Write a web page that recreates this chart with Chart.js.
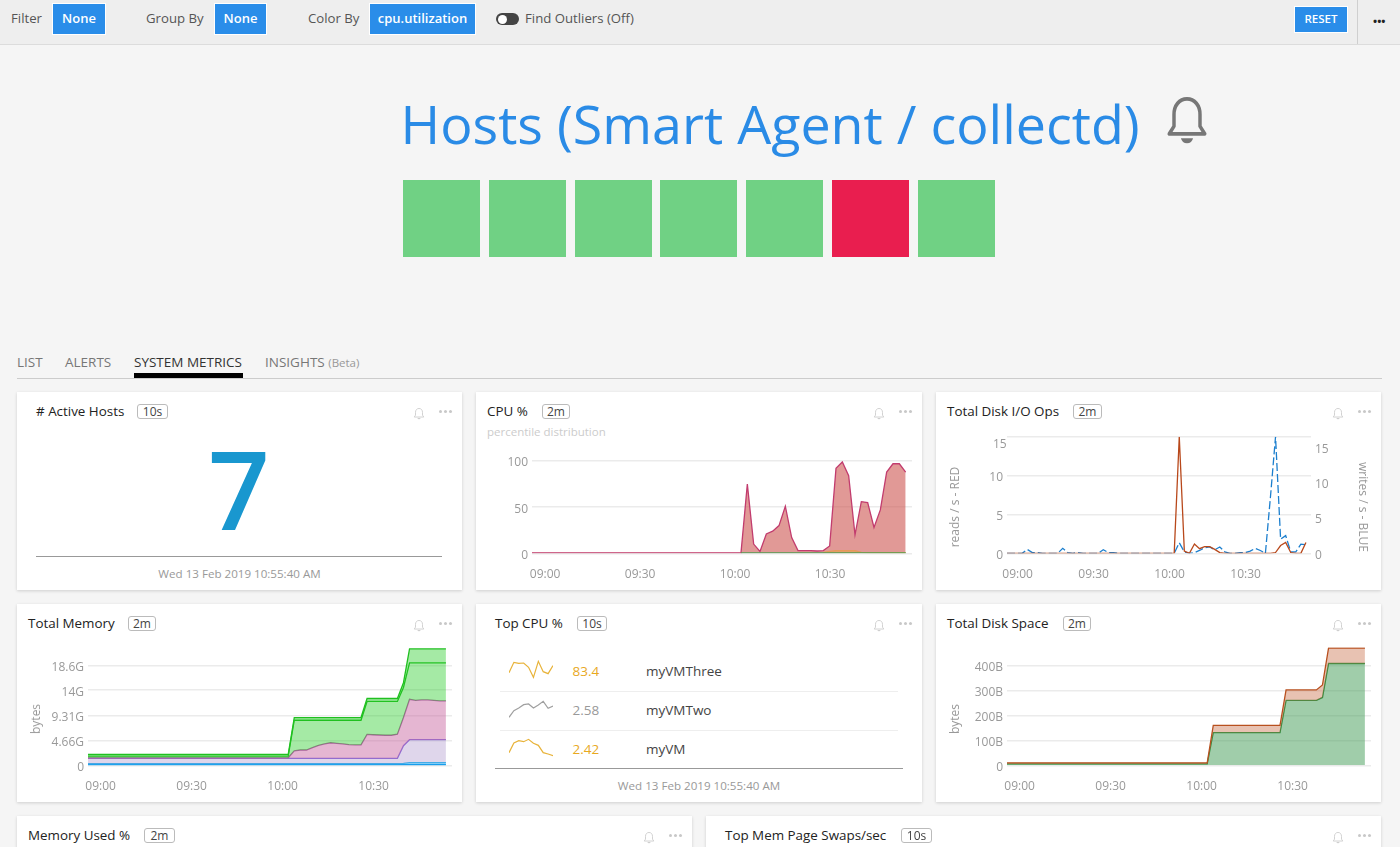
<!DOCTYPE html>
<html>
<head>
<meta charset="utf-8">
<title>Hosts (Smart Agent / collectd)</title>
<script src="https://cdn.jsdelivr.net/npm/chart.js@4/dist/chart.umd.min.js"></script>
<style>
  html, body { margin: 0; padding: 0; width: 1400px; height: 847px; overflow: hidden; background: #f5f5f5; }
  body { position: relative; font-family: "Open Sans", sans-serif; color: #333; }
  .t { position: absolute; white-space: nowrap; line-height: 1; transform: translateY(-50%); }
  .box { position: absolute; }
  .btn { position: absolute; background: #2a8de9; color: #fff; font-weight: 600; font-size: 13px; text-align: center; border: 1px solid #fff; box-sizing: border-box; }
  .card { position: absolute; background: #fff; box-shadow: 0 1px 3px rgba(0,0,0,0.16); }
  .card canvas { position: absolute; left: 0; top: 0; }
  .badge { position: absolute; border: 1px solid #bbb; border-radius: 3px; font-size: 12px; color: #444; text-align: center; box-sizing: border-box; height: 15px; line-height: 13px; }
  .vert { position: absolute; white-space: nowrap; font-size: 12px; color: #999; line-height: 1; transform: translate(-50%, -50%) rotate(-90deg); }
  .vert.down { transform: translate(-50%, -50%) rotate(90deg); }
  .dots { position: absolute; width: 3px; height: 3px; border-radius: 50%; background: #c8c8c8; box-shadow: 5px 0 0 #c8c8c8, 10px 0 0 #c8c8c8; }
</style>
</head>
<body>
<script>
const xLabels = ["08:56","08:58","09:00","09:02","09:04","09:06","09:08","09:10","09:12","09:14","09:16","09:18","09:20","09:22","09:24","09:26","09:28","09:30","09:32","09:34","09:36","09:38","09:40","09:42","09:44","09:46","09:48","09:50","09:52","09:54","09:56","09:58","10:00","10:02","10:04","10:06","10:08","10:10","10:12","10:14","10:16","10:18","10:20","10:22","10:24","10:26","10:28","10:30","10:32","10:34","10:36","10:38","10:40","10:42","10:44","10:46","10:48","10:50","10:52","10:54","10:56"];
const xTickLabels = ["09:00","09:30","10:00","10:30"];

const cpuTicks = [0,50,100];
const cpuMax = [0.5,0.5,0.5,0.5,0.5,0.5,0.5,0.5,0.5,0.5,0.5,0.5,0.5,0.5,0.5,0.5,0.5,0.5,0.5,0.5,0.5,0.5,0.5,0.5,0.5,0.5,0.5,0.5,0.5,0.5,0.5,0.5,0.5,0.5,75,10,2,21,24,30,51,17,3,3,3,2.5,3,8,92,99,84,20,56,55,28,47,88,97,97,88];
const cpuP90 = [null,null,null,null,null,null,null,null,null,null,null,null,null,null,null,null,null,null,null,null,null,null,null,null,null,null,null,null,null,null,null,null,null,null,null,null,null,null,null,null,null,null,null,null,null,null,1,2,3,3,3,3,1,0.8,0.7,0.7,0.7,0.7,0.7,0.7];
const cpuP50 = [null,null,null,null,null,null,null,null,null,null,null,null,null,null,null,null,null,null,null,null,null,null,null,null,null,null,null,null,null,null,null,null,null,0.5,0.5,0.5,0.5,0.5,0.5,0.5,0.5,0.5,0.5,0.5,0.5,0.5,0.5,0.5,0.5,0.5,0.5,0.5,0.5,0.5,0.5,0.5,0.5,0.5,0.5,0.5];

const ioLeftTicks = [0,5,10,15];
const ioRightTicks = [0,5,10,15];
const diskReads = [0,0,0,0,0,0,0,0,0,0,0,0,0,0,0,0,0,0,0,0,0,0,0,0,0,0,0,0,0,0,0,0,0,0,15,0.3,0,1.2,0.6,0.85,0.85,0.5,0.1,0,0,0,0,0,0,0,0,0,0,0.1,1,1.4,0.1,0,0,1.4];
const diskWrites = [0,0,0,0,0.55,0.1,0.1,0,0,0,0,0.7,0.1,0,0.1,0,0,0,0,0.5,0.1,0.1,0,0,0,0,0,0,0,0,0,0,0,0,1.5,0.2,0,0.1,0.4,0.8,0.9,0.5,0.9,0.2,0,0,0.1,0.1,0.3,0.7,0.4,0,8,16.5,2,2.5,0.2,0.2,1.3,1.2];

const memTicks = [0,4.66,9.31,14,18.6];
const memTotalA = [2.05,2.05,2.05,2.05,2.05,2.05,2.05,2.05,2.05,2.05,2.05,2.05,2.05,2.05,2.05,2.05,2.05,2.05,2.05,2.05,2.05,2.05,2.05,2.05,2.05,2.05,2.05,2.05,2.05,2.05,2.05,2.05,2.05,2.05,8.9,8.9,8.9,8.9,8.9,8.9,8.9,8.9,8.9,8.9,8.9,8.9,12.45,12.45,12.45,12.45,12.45,12.45,15.4,21.7,21.7,21.7,21.7,21.7,21.7,21.7];
const memTotalB = [1.7,1.7,1.7,1.7,1.7,1.7,1.7,1.7,1.7,1.7,1.7,1.7,1.7,1.7,1.7,1.7,1.7,1.7,1.7,1.7,1.7,1.7,1.7,1.7,1.7,1.7,1.7,1.7,1.7,1.7,1.7,1.7,1.7,1.7,8.4,8.4,8.4,8.4,8.4,8.4,8.4,8.4,8.4,8.4,8.4,8.4,11.9,11.9,11.9,11.9,11.9,11.9,14.5,19.1,19.1,19.1,19.1,19.1,19.1,19.1];
const memCached = [1.4,1.4,1.4,1.4,1.4,1.4,1.4,1.4,1.4,1.4,1.4,1.4,1.4,1.4,1.4,1.4,1.4,1.4,1.4,1.4,1.4,1.4,1.4,1.4,1.4,1.4,1.4,1.4,1.4,1.4,1.4,1.4,1.4,1.4,2.7,2.85,2.85,3.3,3.7,4,4.2,4.1,4,3.85,3.8,3.8,5.75,5.7,5.65,5.6,5.6,5.8,8.9,12.3,12.1,12.2,12.2,12.1,12,12];
const memUsed = [1.3,1.3,1.3,1.3,1.3,1.3,1.3,1.3,1.3,1.3,1.3,1.3,1.3,1.3,1.3,1.3,1.3,1.3,1.3,1.3,1.3,1.3,1.3,1.3,1.3,1.3,1.3,1.3,1.3,1.3,1.3,1.3,1.3,1.3,1.3,1.3,1.3,1.3,1.3,1.3,1.3,1.3,1.3,1.3,1.3,1.3,1.3,1.3,1.3,1.3,1.3,1.3,3.65,4.77,4.77,4.77,4.77,4.77,4.77,4.77];
const memBuffered = [0.3,0.3,0.3,0.3,0.3,0.3,0.3,0.3,0.3,0.3,0.3,0.3,0.3,0.3,0.3,0.3,0.3,0.3,0.3,0.3,0.3,0.3,0.3,0.3,0.3,0.3,0.3,0.3,0.3,0.3,0.3,0.3,0.3,0.3,0.3,0.3,0.3,0.3,0.3,0.3,0.3,0.3,0.3,0.3,0.3,0.3,0.3,0.3,0.3,0.3,0.3,0.3,0.35,0.5,0.5,0.5,0.5,0.5,0.5,0.5];
const memSlab = [0.1,0.1,0.1,0.1,0.1,0.1,0.1,0.1,0.1,0.1,0.1,0.1,0.1,0.1,0.1,0.1,0.1,0.1,0.1,0.1,0.1,0.1,0.1,0.1,0.1,0.1,0.1,0.1,0.1,0.1,0.1,0.1,0.1,0.1,0.1,0.1,0.1,0.1,0.1,0.1,0.1,0.1,0.1,0.1,0.1,0.1,0.1,0.1,0.1,0.1,0.1,0.1,0.1,0.1,0.1,0.1,0.1,0.1,0.1,0.1];

const spaceTicks = [0,100,200,300,400];
const spaceTotal = [10,10,10,10,10,10,10,10,10,10,10,10,10,10,10,10,10,10,10,10,10,10,10,10,10,10,10,10,10,10,10,10,10,10,160,160,160,160,160,160,160,160,160,160,160,160,302,302,302,302,302,302,322,470,470,470,470,470,470,470];
const spaceUsed = [6,6,6,6,6,6,6,6,6,6,6,6,6,6,6,6,6,6,6,6,6,6,6,6,6,6,6,6,6,6,6,6,6,6,131,131,131,131,131,131,131,131,131,131,131,131,260,260,260,260,260,260,272,408,408,408,408,408,408,408];

const topHosts = ["myVMThree","myVMTwo","myVM"];
const topValues = ["83.4","2.58","2.42"];
const sparkThree = [69.5,85,83.5,84,77.5,62.5,86.5,71,68,80];
const sparkTwo = [2.05,2.25,2.33,2.43,2.45,2.33,2.42,2.53,2.32,2.39];
const sparkOne = [2.13,2.42,2.49,2.46,2.53,2.41,2.35,2.13,2.09,2.04];

const hostStates = ["ok","ok","ok","ok","ok","bad","ok"];

const FONT = '"Open Sans", sans-serif';
const BELL = '<path d="M12 2.5c-3.6 0-6 2.8-6 6.5v5l-2.2 3.2h16.4L18 14V9c0-3.7-2.4-6.5-6-6.5z" fill="none" stroke="currentColor" stroke-width="1.6" stroke-linejoin="round"/><path d="M9.2 19a2.9 2.9 0 0 0 5.6 0z" fill="currentColor"/>';

function addText(parent, x, y, str, size, color, weight) {
  const el = document.createElement("div");
  el.className = "t";
  el.style.left = x + "px";
  el.style.top = y + "px";
  el.style.fontSize = size + "px";
  el.style.color = color;
  if (weight) el.style.fontWeight = weight;
  el.textContent = str;
  parent.appendChild(el);
  return el;
}

function addBox(parent, x, y, w, h, bg) {
  const el = document.createElement("div");
  el.className = "box";
  el.style.cssText = `left:${x}px;top:${y}px;width:${w}px;height:${h}px;background:${bg}`;
  parent.appendChild(el);
  return el;
}

function addBell(parent, x, y, w, h, color) {
  const el = document.createElement("div");
  el.style.cssText = `position:absolute;left:${x}px;top:${y}px;width:${w}px;height:${h}px;color:${color}`;
  el.innerHTML = `<svg width="${w}" height="${h}" viewBox="0 0 24 24" preserveAspectRatio="none">${BELL}</svg>`;
  parent.appendChild(el);
}

function addButton(x, y, w, h, str, size) {
  const el = document.createElement("div");
  el.className = "btn";
  el.style.cssText = `left:${x}px;top:${y}px;width:${w}px;height:${h}px;line-height:${h - 3}px;font-size:${size}px`;
  el.textContent = str;
  document.body.appendChild(el);
}

// card with title, interval badge, bell and the "..." menu
function addCard(x, y, w, h, title, titleX, badge, badgeX, badgeW) {
  const card = document.createElement("div");
  card.className = "card";
  card.style.cssText = `left:${x}px;top:${y}px;width:${w}px;height:${h}px`;
  document.body.appendChild(card);
  addText(card, titleX - x, 19.5, title, 13.4, "#222");
  const b = document.createElement("div");
  b.className = "badge";
  b.style.cssText = `left:${badgeX - x}px;top:12px;width:${badgeW}px`;
  b.textContent = badge;
  card.appendChild(b);
  addBell(card, w - 50, 12, 14, 14, "#cfcfcf");
  const d = document.createElement("div");
  d.className = "dots";
  d.style.cssText = `left:${w - 23}px;top:17.5px`;
  card.appendChild(d);
  return card;
}

function addVertical(card, x, y, str, down) {
  const el = document.createElement("div");
  el.className = down ? "vert down" : "vert";
  el.style.left = x + "px";
  el.style.top = y + "px";
  el.textContent = str;
  card.appendChild(el);
}

// builds a time chart whose plot area sits at the given offsets inside the card
function timeChart(card, area, datasets, scales) {
  const w = card.offsetWidth, h = card.offsetHeight;
  const canvas = document.createElement("canvas");
  canvas.width = w;
  canvas.height = h;
  canvas.style.width = w + "px";
  canvas.style.height = h + "px";
  card.appendChild(canvas);
  scales.x = {
    type: "category",
    offset: false,
    grid: { display: false },
    border: { display: false },
    afterFit: (s) => { s.height = h - area.bottom; },
    ticks: {
      color: "#999", autoSkip: false, maxRotation: 0, minRotation: 0, padding: 6, labelOffset: 0.5,
      font: { family: FONT, size: 12 },
      callback: function (v) {
        const l = this.getLabelForValue(v);
        return xTickLabels.includes(l) ? l : "";
      }
    }
  };
  return new Chart(canvas, {
    type: "line",
    data: { labels: xLabels, datasets: datasets },
    options: {
      responsive: false,
      animation: false,
      layout: { padding: { left: 0, top: area.top, right: scales.y2 ? 0 : w - area.right, bottom: 0 } },
      plugins: { legend: { display: false }, tooltip: { enabled: false } },
      elements: { point: { radius: 0 }, line: { tension: 0, borderWidth: 1.3 } },
      scales: scales
    }
  });
}

function valueAxis(ticks, max, width, fmt, position, showGrid) {
  return {
    type: "linear",
    position: position || "left",
    min: 0,
    max: max,
    border: { display: false },
    grid: { display: showGrid !== false, color: "#ebebeb", lineWidth: 1.5, drawTicks: false },
    afterBuildTicks: (s) => { s.ticks = ticks.map((v) => ({ value: v })); },
    afterFit: (s) => { s.width = width; },
    ticks: { color: "#999", padding: 4, labelOffset: 2, font: { family: FONT, size: 12 }, callback: fmt || ((v) => String(v)) }
  };
}

function sparkline(card, x, y, w, h, values, min, max, color) {
  const canvas = document.createElement("canvas");
  canvas.width = w;
  canvas.height = h;
  canvas.style.cssText = `left:${x}px;top:${y}px;width:${w}px;height:${h}px`;
  card.appendChild(canvas);
  new Chart(canvas, {
    type: "line",
    data: { labels: values.map((v, i) => i), datasets: [{ data: values, borderColor: color, borderWidth: 1.2, pointRadius: 0, tension: 0, clip: false }] },
    options: {
      responsive: false, animation: false,
      plugins: { legend: { display: false }, tooltip: { enabled: false } },
      scales: { x: { display: false, offset: false }, y: { display: false, min: min, max: max } }
    }
  });
}

function init() {
  const body = document.body;

  // top toolbar
  addBox(body, 0, 0, 1400, 44, "#eeeeee");
  addBox(body, 0, 44, 1400, 1, "#dcdcdc");
  addText(body, 11, 18.5, "Filter", 13.2, "#555");
  addButton(52, 3, 54, 32, "None", 13);
  addText(body, 146, 18.5, "Group By", 13.2, "#555");
  addButton(214, 3, 53, 32, "None", 13);
  addText(body, 308, 18.5, "Color By", 13.2, "#555");
  addButton(369, 3, 107, 32, "cpu.utilization", 13);
  const toggle = addBox(body, 496, 13, 23, 12, "#444");
  toggle.style.borderRadius = "6px";
  const knob = addBox(body, 498, 14.5, 9, 9, "#fff");
  knob.style.borderRadius = "50%";
  addText(body, 525, 18.5, "Find Outliers (Off)", 13.2, "#555");
  addButton(1294, 6, 54, 27, "RESET", 11.5);
  addBox(body, 1357, 0, 1, 44, "#cfcfcf");
  addText(body, 1373, 20, "•••", 11, "#222", 700);

  // heading and host squares
  addText(body, 400.5, 123.5, "Hosts (Smart Agent / collectd)", 53.8, "#2a8be6");
  addBell(body, 1160.5, 93, 52, 57, "#777");
  hostStates.forEach((s, i) => {
    addBox(body, 403 + i * 85.8, 180, 77, 77, s === "ok" ? "#70d184" : "#e91e4f");
  });

  // tabs
  addText(body, 17, 363, "LIST", 13.5, "#777");
  addText(body, 65, 363, "ALERTS", 13.5, "#777");
  addText(body, 134, 363, "SYSTEM METRICS", 13.5, "#333");
  const insights = addText(body, 265, 363, "INSIGHTS ", 13.5, "#777");
  const beta = document.createElement("span");
  beta.textContent = "(Beta)";
  beta.style.cssText = "font-size:11.5px;color:#999";
  insights.appendChild(beta);
  addBox(body, 134, 373, 109, 5, "#000");
  addBox(body, 17, 378, 1365, 1, "#cccccc");

  // # Active Hosts
  const active = addCard(17, 392, 445, 198, "# Active Hosts", 36, "10s", 137, 31);
  const seven = addText(active, 222, 97, "7", 108, "#1997cf", 600);
  seven.style.transform = "translate(-50%, -50%)";
  addBox(active, 19, 164, 406, 1, "#999");
  const stampA = addText(active, 222.5, 181.5, "Wed 13 Feb 2019 10:55:40 AM", 11.6, "#999");
  stampA.style.transform = "translate(-50%, -50%)";

  // CPU %
  const cpu = addCard(476, 392, 446, 198, "CPU %", 487, "2m", 542, 28);
  addText(cpu, 11, 39.5, "percentile distribution", 11.5, "#ccc");
  timeChart(cpu, { top: 69, right: 436, bottom: 161.3 }, [
    { data: cpuP50, borderColor: "#4f9d52", fill: false },
    { data: cpuP90, borderColor: "#e59a5a", backgroundColor: "rgba(230,160,90,0.7)", fill: "origin" },
    { data: cpuMax, borderColor: "#c23c6e", backgroundColor: "rgba(205,85,80,0.6)", fill: "origin" }
  ], { y: valueAxis(cpuTicks, 100, 56) });

  // Total Disk I/O Ops
  const disk = addCard(936, 392, 445, 198, "Total Disk I/O Ops", 947, "2m", 1073, 29);
  timeChart(disk, { top: 44.7, right: 375, bottom: 161.3 }, [
    { data: diskReads, borderColor: "#b8481b", yAxisID: "y" },
    { data: diskWrites, borderColor: "#1c7fce", borderDash: [8, 3], yAxisID: "y2" }
  ], {
    y: valueAxis(ioLeftTicks, 15, 71, (v) => (v === 15 ? "" : String(v))),
    y2: valueAxis(ioRightTicks, 16.5, 70, null, "right", false)
  });
  // the top label sits below its grid line, inside the plot
  addText(disk, 57, 52, "15", 12, "#999");
  addVertical(disk, 19, 115, "reads / s - RED");
  addVertical(disk, 427, 115, "writes / s - BLUE", true);

  // Total Memory
  const memory = addCard(17, 604, 445, 198, "Total Memory", 28, "2m", 128, 28);
  const gb = (v) => (v === 0 ? "0" : v + "G");
  const pink = "rgba(200,100,160,0.47)", green = "rgba(40,205,40,0.42)", lav = "rgba(150,120,190,0.3)";
  timeChart(memory, { top: 43.3, right: 435, bottom: 161.3 }, [
    { data: memTotalA, borderColor: "#20c020", backgroundColor: green, fill: "+1" },
    { data: memTotalB, borderColor: "#20c020", backgroundColor: green, fill: "+1" },
    { data: memCached, borderColor: "#a8649a", backgroundColor: pink, fill: "+1" },
    { data: memUsed, borderColor: "#8d6fd6", backgroundColor: lav, fill: "+1" },
    { data: memBuffered, borderColor: "#36b5f0", backgroundColor: "rgba(60,170,240,0.3)", fill: "+1" },
    { data: memSlab, borderColor: "#0f9bec", backgroundColor: "rgba(15,155,236,0.6)", borderWidth: 2, fill: "origin" }
  ], { y: valueAxis(memTicks, 22, 71, gb) });
  addVertical(memory, 19, 115, "bytes");

  // Top CPU %
  const top = addCard(476, 604, 446, 198, "Top CPU %", 495, "10s", 577, 30);
  const sparks = [[sparkThree, 60, 90], [sparkTwo, 2, 2.6], [sparkOne, 2, 2.6]];
  const sparkTop = [55, 95, 133.3];
  const rowY = [67.5, 106.5, 145.5];
  const valueColors = ["#e8a91f", "#999", "#e8a91f"];
  const sparkColors = ["#e8b33a", "#a0a0a0", "#e8b33a"];
  topHosts.forEach((name, i) => {
    sparkline(top, 33, sparkTop[i], 44, 20, sparks[i][0], sparks[i][1], sparks[i][2], sparkColors[i]);
    addText(top, 96.5, rowY[i], topValues[i], 13.5, valueColors[i]);
    addText(top, 170, rowY[i], name, 13.5, "#444");
  });
  addBox(top, 24, 87, 398, 1, "#eeeeee");
  addBox(top, 24, 126, 398, 1, "#eeeeee");
  addBox(top, 19, 164, 408, 1, "#999");
  const stampB = addText(top, 223, 181.5, "Wed 13 Feb 2019 10:55:40 AM", 11.6, "#999");
  stampB.style.transform = "translate(-50%, -50%)";

  // Total Disk Space
  const space = addCard(936, 604, 445, 198, "Total Disk Space", 947, "2m", 1063, 28);
  const bytes = (v) => (v === 0 ? "0" : v + "B");
  timeChart(space, { top: 43.3, right: 435, bottom: 161.3 }, [
    { data: spaceTotal, borderColor: "#b8501f", backgroundColor: "rgba(205,120,85,0.45)", fill: "+1" },
    { data: spaceUsed, borderColor: "#2f8b3c", backgroundColor: "rgba(65,155,85,0.5)", fill: "origin" }
  ], { y: valueAxis(spaceTicks, 473, 71, bytes) });
  addVertical(space, 19, 115, "bytes");

  // bottom row, cut off by the window
  addCard(17, 816, 675, 60, "Memory Used %", 28, "2m", 144, 31);
  addCard(706, 816, 675, 60, "Top Mem Page Swaps/sec", 725, "10s", 901, 31);
}

init();
</script>
</body>
</html>
